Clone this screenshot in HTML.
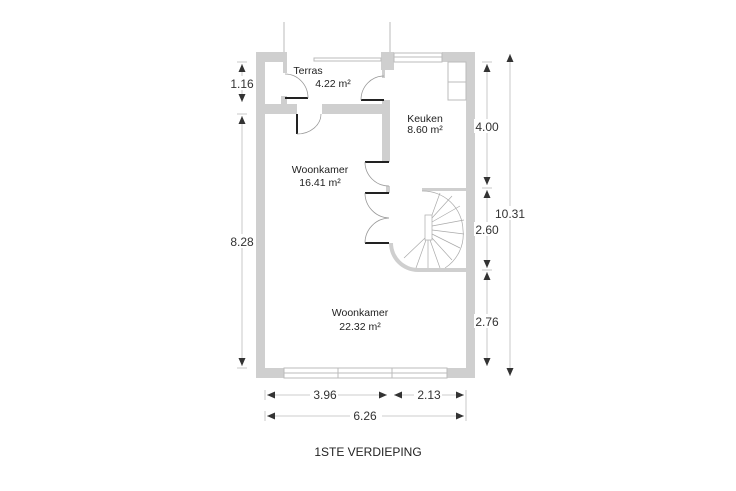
<!DOCTYPE html>
<html><head><meta charset="utf-8"><style>
html,body{margin:0;padding:0;background:#fff;}
svg{display:block;font-family:"Liberation Sans",sans-serif;}
</style></head><body>
<svg width="736" height="491" viewBox="0 0 736 491" xmlns="http://www.w3.org/2000/svg">
<defs>
<marker id="a" markerWidth="8" markerHeight="8" refX="8" refY="4" orient="auto-start-reverse" markerUnits="userSpaceOnUse"><path d="M8,4 L0,0.5 L0,7.5 z" fill="#333"/></marker>
</defs>
<g fill="#cfcfcf">
<rect x="256" y="52" width="9" height="326"/>
<rect x="466" y="52" width="9" height="326"/>
<rect x="256" y="368" width="219" height="10"/>
<rect x="256" y="52" width="28" height="10"/>
<rect x="283" y="52" width="4" height="21"/>
<rect x="281" y="96" width="6" height="8"/>
<rect x="381" y="52" width="13" height="18"/>
<rect x="442" y="52" width="33" height="10"/>
<rect x="256" y="104" width="41" height="10"/>
<rect x="322" y="104" width="68" height="10"/>
<rect x="382" y="100" width="8" height="62"/>
<rect x="382" y="70" width="3" height="8"/>
<rect x="422" y="188" width="44" height="3"/>
<rect x="386" y="186" width="4" height="7"/>
</g>
<g stroke="#bbb" stroke-width="1" fill="#fff">
<rect x="394" y="53" width="48" height="9"/>
<line x1="394" y1="57" x2="442" y2="57"/>
<rect x="284" y="368" width="163" height="10"/>
<line x1="284" y1="373" x2="447" y2="373"/>
<line x1="338" y1="368" x2="338" y2="378"/><line x1="392" y1="368" x2="392" y2="378"/>
<rect x="314" y="58" width="67" height="3"/>
</g>
<g stroke="#bbb" fill="none" stroke-width="1">
<line x1="284" y1="52" x2="284" y2="22"/><line x1="390" y1="52" x2="390" y2="22"/>
<rect x="448" y="62" width="18" height="38"/><line x1="448" y1="82" x2="466" y2="82"/>
</g>
<g stroke="#222" stroke-width="2">
<line x1="285" y1="98" x2="308" y2="98"/>
<line x1="361" y1="100" x2="384" y2="100"/>
<line x1="297" y1="114" x2="297" y2="134"/>
<line x1="365" y1="162" x2="389" y2="162"/>
<line x1="365" y1="193" x2="389" y2="193"/>
<line x1="365" y1="243" x2="389" y2="243"/>
</g>
<g stroke="#999" stroke-width="0.8" fill="none">
<path d="M308,98 A23,24 0 0 0 285,74"/>
<path d="M361,100 A23,24 0 0 1 384,76"/>
<path d="M297,134 A24,20 0 0 0 321,114"/>
<path d="M365,162 A24,24 0 0 0 389,186"/>
<path d="M365,193 A25,25 0 0 0 389,218"/>
<path d="M365,243 A25,25 0 0 1 389,218"/>
</g>
<path d="M389,243 A29,29 0 0 0 418,272 L466,272 L466,268 L418,268 A25,25 0 0 1 393,243 z" fill="#cfcfcf"/>
<g stroke="#aaa" stroke-width="0.7" fill="none">
<path d="M422,191 A40,40 0 0 1 463,230 A40,40 0 0 1 445,268"/>
<rect x="425" y="215" width="7" height="25" fill="#fff"/>
<path d="M432,215 L440,193 M432,218 L452,196 M432,222 L460,206 M432,226 L464,220 M432,230 L464,234 M432,234 L460,248 M432,238 L452,260 M430,240 L440,268 M428,240 L428,268 M426,240 L416,268 M425,238 L404,258"/>
</g>
<g font-size="10.5" fill="#222" text-anchor="middle">
<text x="308" y="74">Terras</text>
<text x="333" y="87">4.22 m²</text>
<text x="425" y="122">Keuken</text>
<text x="425" y="133">8.60 m²</text>
<text x="320" y="173">Woonkamer</text>
<text x="320" y="186">16.41 m²</text>
<text x="360" y="316">Woonkamer</text>
<text x="360" y="330">22.32 m²</text>
</g>
<g stroke="#bbb" stroke-width="0.8">
<line x1="242" y1="64" x2="242" y2="102" marker-start="url(#a)" marker-end="url(#a)"/>
<line x1="242" y1="116" x2="242" y2="366" marker-start="url(#a)" marker-end="url(#a)"/>
<line x1="487" y1="64" x2="487" y2="185" marker-start="url(#a)" marker-end="url(#a)"/>
<line x1="487" y1="190" x2="487" y2="268" marker-start="url(#a)" marker-end="url(#a)"/>
<line x1="487" y1="272" x2="487" y2="366" marker-start="url(#a)" marker-end="url(#a)"/>
<line x1="510" y1="54" x2="510" y2="376" marker-start="url(#a)" marker-end="url(#a)"/>
<line x1="267" y1="395" x2="387" y2="395" marker-start="url(#a)" marker-end="url(#a)"/>
<line x1="394" y1="395" x2="464" y2="395" marker-start="url(#a)" marker-end="url(#a)"/>
<line x1="267" y1="416" x2="464" y2="416" marker-start="url(#a)" marker-end="url(#a)"/>
<line x1="265" y1="390" x2="265" y2="400"/><line x1="466" y1="390" x2="466" y2="421"/>
<line x1="265" y1="411" x2="265" y2="421"/>
<line x1="237" y1="62" x2="247" y2="62"/><line x1="237" y1="114" x2="247" y2="114"/><line x1="237" y1="368" x2="247" y2="368"/>
<line x1="482" y1="62" x2="492" y2="62"/><line x1="482" y1="188" x2="492" y2="188"/><line x1="482" y1="270" x2="492" y2="270"/>
</g>
<g font-size="12" fill="#333" text-anchor="middle">
<rect x="228" y="76" width="28" height="14" fill="#fff"/>
<text x="242" y="88">1.16</text>
<rect x="228" y="234" width="28" height="14" fill="#fff"/>
<text x="242" y="246">8.28</text>
<rect x="474" y="119" width="26" height="14" fill="#fff"/>
<text x="487" y="131">4.00</text>
<rect x="474" y="222" width="26" height="14" fill="#fff"/>
<text x="487" y="234">2.60</text>
<rect x="474" y="314" width="26" height="14" fill="#fff"/>
<text x="487" y="326">2.76</text>
<rect x="495" y="206" width="30" height="14" fill="#fff"/>
<text x="510" y="218">10.31</text>
<rect x="310" y="388" width="28" height="13" fill="#fff"/>
<text x="325" y="399">3.96</text>
<rect x="414" y="388" width="28" height="13" fill="#fff"/>
<text x="429" y="399">2.13</text>
<rect x="350" y="409" width="32" height="13" fill="#fff"/>
<text x="365" y="420">6.26</text>
<text x="368" y="456" font-size="12" fill="#222">1STE VERDIEPING</text>
</g>
</svg>
</body></html>
